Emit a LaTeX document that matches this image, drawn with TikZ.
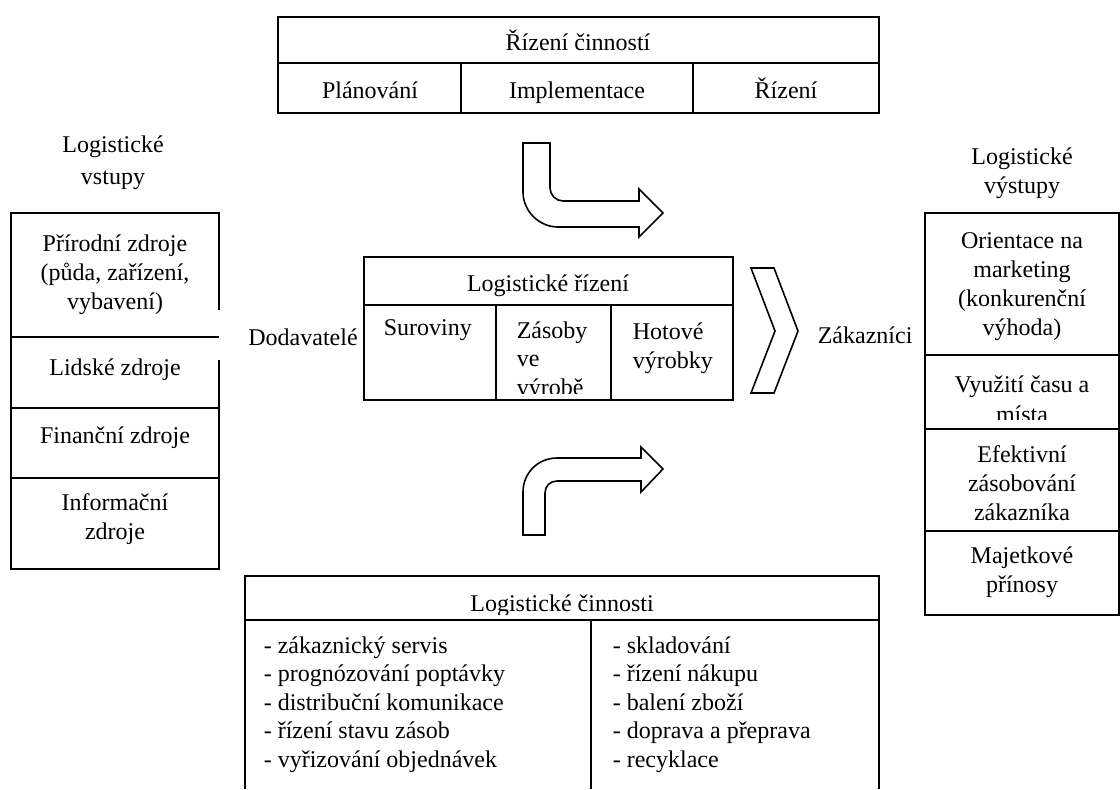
\documentclass[tikz,border=0pt]{standalone}
\usepackage{fontspec}
\setmainfont{Liberation Serif}
\usepackage{tikz}
\usetikzlibrary{positioning}

\begin{document}
\begin{tikzpicture}[x=0.5pt, y=-0.5pt, line width=0.8pt,
    txt/.style={font=\fontsize{12}{14.5}\selectfont, inner sep=0pt, anchor=base, align=center},
    ltxt/.style={txt, anchor=base west, align=left},
    lst/.style={ltxt, font=\fontsize{12}{14.25}\selectfont}]
                \useasboundingbox[fill=white] (0,0) rectangle (1120,789);

                % Rizeni cinnosti (top table)
                \draw (278,17) rectangle (879,113);
                \draw (278,63) -- (879,63);
                \draw (461,63) -- (461,113);
                \draw (693,63) -- (693,113);
                \node[txt] (rc) at (578,50) {Řízení činností};
                \node[txt] (plan) at (370,98) {Plánování};
                \node[txt] (impl) at (577,98) {Implementace};
                \node[txt] (riz) at (786,98) {Řízení};

                % Logisticke vstupy (last line at the given point)
                \node[txt, font=\fontsize{12}{16}\selectfont] (vst) at (113,184) {Logistické\\vstupy};
                \draw (219,310) -- (219,213) -- (11,213) -- (11,569) -- (219,569) -- (219,360);
                \draw (11,337) -- (219,337);
                \draw (11,408) -- (219,408);
                \draw (11,478) -- (219,478);
                \node[txt] (prir) at (115,309) {Přírodní zdroje\\(půda, zařízení,\\vybavení)};
                \node[txt] (lid) at (115,375) {Lidské zdroje};
                \node[txt] (fin) at (115,443) {Finanční zdroje};
                \node[txt] (inf) at (115,539) {Informační\\zdroje};

                \node[txt] (dod) at (303,345) {Dodavatelé};

                % Logisticke rizeni (middle)
                \draw (364,257) rectangle (733,400);
                \draw (364,305) -- (733,305);
                \draw (496,305) -- (496,400);
                \draw (611,305) -- (611,400);
                \node[txt] (lr) at (548,291) {Logistické řízení};
                \node[ltxt] (sur) at (383,335) {Suroviny};
                \begin{scope}
                    \clip (496,305) rectangle (611,393);
                    \node[ltxt, font=\fontsize{12}{14.25}\selectfont] (zas) at (516,395) {Zásoby\\ve\\výrobě};
                \end{scope}
                \node[ltxt] (hot) at (632,368) {Hotové\\výrobky};

                % Arrows
                \draw (523,143) -- (523,192) .. controls (523,211) and (539,227) .. (558,227) -- (639,227) -- (639,237) -- (663,213) -- (639,189) -- (639,201) -- (563,201) .. controls (556,201) and (550,195) .. (550,188) -- (550,143) -- cycle;
                \draw (523,535) -- (523,492) .. controls (523,473) and (538,458) .. (557,458) -- (641,458) -- (641,447) -- (663,469) -- (641,492) -- (641,481) -- (557,481) .. controls (550,481) and (545,486) .. (545,493) -- (545,535) -- cycle;
                \draw (751,268) -- (774,268) -- (798,331) -- (774,393) -- (751,393) -- (775,331) -- cycle;

                \node[ltxt] (zak) at (817,343) {Zákazníci};

                % Logisticke vystupy
                \node[txt] (vys) at (1022,193) {Logistické\\výstupy};
                \draw (925,213) rectangle (1119,615);
                \draw (925,355) -- (1119,355);
                \draw (925,429) -- (1119,429);
                \draw (925,531) -- (1119,531);
                \node[txt] (mkt) at (1022,335) {Orientace na\\marketing\\(konkurenční\\výhoda)};
                \begin{scope}
                    \clip (925,355) rectangle (1119,419);
                    \node[txt, font=\fontsize{12}{15}\selectfont] (cas) at (1022,422) {Využití času a\\místa};
                \end{scope}
                \node[txt] (efe) at (1022,520) {Efektivní\\zásobování\\zákazníka};
                \node[txt] (maj) at (1022,592) {Majetkové\\přínosy};

                % Logisticke cinnosti (bottom table)
                \draw (879,789) -- (879,576) -- (245,576) -- (245,789);
                \draw (245,620) -- (879,620);
                \draw (591,620) -- (591,789);
                \begin{scope}
                    \clip (245,576) rectangle (879,614);
                    \node[txt] (lc) at (562,611) {Logistické činnosti};
                \end{scope}
                \node[lst] (lc1) at (263,767) {- zákaznický servis\\- prognózování poptávky\\- distribuční komunikace\\- řízení stavu zásob\\- vyřizování objednávek};
                \node[lst] (lc2) at (612,767) {- skladování\\- řízení nákupu\\- balení zboží\\- doprava a přeprava\\- recyklace};
            \end{tikzpicture}
\end{document}
